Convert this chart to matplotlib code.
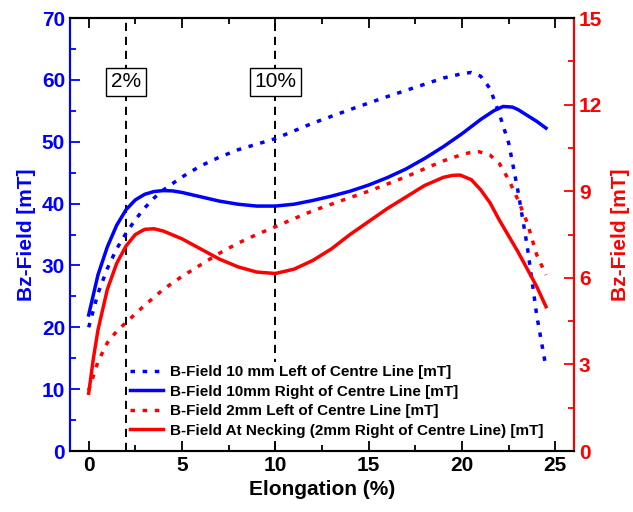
import numpy as np
import matplotlib
matplotlib.use('Agg')
import matplotlib.pyplot as plt

plt.rcParams['font.family'] = ['Liberation Sans', 'DejaVu Sans']
plt.rcParams['font.weight'] = 'bold'

# blue series (left axis, mT)
x_blue_dot = [0, 0.5, 1, 1.5, 2, 2.5, 3, 3.5, 4, 5, 6, 7, 8, 9, 10, 12, 14, 16, 18, 19, 20, 20.5, 21, 21.5, 22, 22.5, 23, 23.5, 24, 24.5]
y_blue_dot = [20, 25.5, 29.5, 32.7, 35.2, 37.4, 39.3, 40.9, 42.2, 44.3, 46.1, 47.5, 48.7, 49.6, 50.5, 53, 55.2, 57.3, 59.3, 60.3, 61.0, 61.2, 60.6, 58.6, 54.5, 49.8, 42, 33, 22, 13.5]

x_blue_solid = [0, 0.5, 1, 1.5, 2, 2.5, 3, 3.5, 4, 4.5, 5, 6, 7, 8, 9, 10, 11, 12, 13, 14, 15, 16, 17, 18, 19, 20, 21, 21.7, 22.2, 22.7, 23, 24, 24.5]
y_blue_solid = [22, 28.5, 33, 36.5, 39, 40.6, 41.5, 41.95, 42.1, 42.05, 41.8, 41.1, 40.4, 39.9, 39.6, 39.6, 39.9, 40.5, 41.2, 42.0, 43, 44.2, 45.6, 47.3, 49.2, 51.3, 53.6, 55.0, 55.7, 55.6, 55.2, 53.3, 52.2]

# red series (right axis, mT)
x_red_dot = [0, 0.5, 1, 1.5, 2, 3, 4, 5, 6, 7, 8, 9, 10, 11, 12, 13, 14, 15, 16, 17, 18, 19, 20, 20.5, 20.9, 21.5, 22, 22.5, 23, 23.5, 24, 24.5]
y_red_dot = [2.1, 3.1, 3.75, 4.15, 4.45, 5.05, 5.6, 6.05, 6.45, 6.85, 7.2, 7.5, 7.77, 8.05, 8.32, 8.55, 8.78, 9.0, 9.25, 9.5, 9.78, 10.05, 10.27, 10.35, 10.37, 10.25, 9.96, 9.4, 8.7, 7.9, 6.8, 6.1]

x_red_solid = [0, 0.25, 0.5, 1, 1.5, 2, 2.5, 3, 3.5, 4, 5, 6, 7, 8, 9, 10, 11, 12, 13, 14, 15, 16, 17, 18, 19, 19.5, 19.9, 20.5, 21, 21.5, 22, 23, 24, 24.5]
y_red_solid = [2.0, 3.2, 4.2, 5.6, 6.5, 7.1, 7.5, 7.68, 7.7, 7.62, 7.35, 7.0, 6.65, 6.38, 6.2, 6.15, 6.3, 6.6, 7.0, 7.5, 7.95, 8.4, 8.8, 9.2, 9.48, 9.55, 9.56, 9.4, 9.05, 8.6, 8.0, 6.9, 5.7, 5.0]

labels = ['B-Field 10 mm Left of Centre Line [mT]',
          'B-Field 10mm Right of Centre Line [mT]',
          'B-Field 2mm Left of Centre Line [mT]',
          'B-Field At Necking (2mm Right of Centre Line) [mT]']

marks = [2, 10]
mark_text = ['2%', '10%']

fig = plt.figure(figsize=(6.33, 5.12), dpi=100)
ax = fig.add_axes([0.1106, 0.1191, 0.7962, 0.8457])
ax2 = ax.twinx()

dot = (0, (1.3, 2.2))
l1, = ax.plot(x_blue_dot, y_blue_dot, color='blue', lw=2.5, linestyle=dot)
l2, = ax.plot(x_blue_solid, y_blue_solid, color='blue', lw=2.5)
l3, = ax2.plot(x_red_dot, y_red_dot, color='red', lw=2.5, linestyle=dot)
l4, = ax2.plot(x_red_solid, y_red_solid, color='red', lw=2.5)

for m, t in zip(marks, mark_text):
    ax.axvline(m, color='black', lw=1.4, linestyle=(0, (4.2, 3)), zorder=1)
    ax.text(m, 59.7, t, ha='center', va='center', fontsize=15, fontweight='normal',
            bbox=dict(boxstyle='square,pad=0.22', fc='white', ec='black', lw=1), zorder=3)

ax.set_xticks([0, 5, 10, 15, 20, 25])
ax.set_xticks(np.arange(0, 26, 2.5), minor=True)
ax.set_yticks(np.arange(0, 71, 10))
ax.set_yticks(np.arange(0, 71, 5), minor=True)
ax2.set_yticks(np.arange(0, 16, 3))
ax2.set_yticks(np.arange(0, 15.1, 1.5), minor=True)
ax.set_xlim(-1, 26)
ax.set_ylim(0, 70)
ax2.set_ylim(0, 15)

ax.tick_params(axis='x', which='both', direction='in', top=True, labelsize=15, width=1.3, colors='black')
ax.tick_params(axis='x', which='major', length=7)
ax.tick_params(axis='x', which='minor', length=4)
ax.tick_params(axis='y', which='both', direction='in', colors='blue', labelsize=15, width=1.3)
ax.tick_params(axis='y', which='major', length=7)
ax.tick_params(axis='y', which='minor', length=4)
ax2.tick_params(axis='y', which='both', direction='in', colors='red', labelsize=15, width=1.3)
ax2.tick_params(axis='y', which='major', length=7)
ax2.tick_params(axis='y', which='minor', length=4)

for a in (ax, ax2):
    for s in a.spines.values():
        s.set_linewidth(1.5)
ax2.spines['left'].set_color('blue')
ax2.spines['right'].set_color('red')

ax.set_xlabel('Elongation (%)', fontsize=15, fontweight='bold', labelpad=4)
ax.set_ylabel('Bz-Field [mT]', fontsize=15, fontweight='bold', color='blue', labelpad=4)
ax2.set_ylabel('Bz-Field [mT]', fontsize=15, fontweight='bold', color='red', rotation=90, labelpad=6)

leg = ax2.legend([l1, l2, l3, l4], labels, loc='upper left', bbox_to_anchor=(0.113, 0.205),
                 borderaxespad=0, frameon=True, framealpha=1, edgecolor='none', facecolor='white',
                 handlelength=2.15, handletextpad=0.45, labelspacing=0.36, borderpad=0.2,
                 prop={'weight': 'bold', 'size': 11})
leg.get_frame().set_linewidth(0)

fig.savefig('out.png', dpi=100)
